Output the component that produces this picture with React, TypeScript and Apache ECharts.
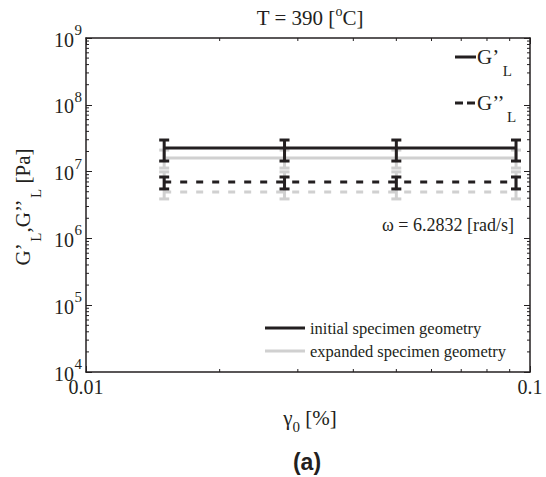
import React, { useEffect, useRef } from "react";
import * as echarts from "echarts";

// ---- data ----
const strainAmplitude = [0.015, 0.028, 0.05, 0.093]; // gamma_0 [%]

const storageInitial = [2.25e7, 2.25e7, 2.25e7, 2.25e7];
const storageInitialLow = [1.44e7, 1.44e7, 1.44e7, 1.44e7];
const storageInitialHigh = [2.97e7, 2.97e7, 2.97e7, 2.97e7];

const storageExpanded = [1.6e7, 1.6e7, 1.6e7, 1.6e7];
const storageExpandedLow = [1.13e7, 1.13e7, 1.13e7, 1.13e7];
const storageExpandedHigh = [2.1e7, 2.1e7, 2.1e7, 2.1e7];

const lossInitial = [7.0e6, 7.0e6, 7.0e6, 7.0e6];
const lossInitialLow = [5.5e6, 5.5e6, 5.5e6, 5.5e6];
const lossInitialHigh = [8.3e6, 8.3e6, 8.3e6, 8.3e6];

const lossExpanded = [4.95e6, 4.95e6, 4.95e6, 4.95e6];
const lossExpandedLow = [3.9e6, 3.9e6, 3.9e6, 3.9e6];
const lossExpandedHigh = [9.9e6, 9.9e6, 9.9e6, 9.9e6];

// ---- ticks ----
const xTickValues = [0.01, 0.1];
const xTickLabels = ["0.01", "0.1"];
const yTickExponents = [4, 5, 6, 7, 8, 9];
const xMinorTicks = [0.02, 0.03, 0.04, 0.05, 0.06, 0.07, 0.08, 0.09];
const yMinorMultipliers = [2, 3, 4, 5, 6, 7, 8, 9];

const BLACK = "#231f20";
const GRAY = "#d0d0d0";
const SERIF = "Liberation Serif";

function richSet(fs: number, subFs: number, shift: number, spFs = 7) {
  const subLH = subFs;
  const L = 2 * shift + subLH;
  return {
    m: { fontFamily: SERIF, fontSize: fs, lineHeight: L, verticalAlign: "middle", fill: BLACK },
    sup: { fontFamily: SERIF, fontSize: subFs, lineHeight: subLH, verticalAlign: "top", fill: BLACK },
    sub: { fontFamily: SERIF, fontSize: subFs, lineHeight: subLH, verticalAlign: "bottom", fill: BLACK },
    sp: { fontFamily: SERIF, fontSize: spFs, lineHeight: subLH, verticalAlign: "middle", fill: BLACK },
  };
}

function pairs(ys: number[]) {
  return strainAmplitude.map((x, i) => [x, ys[i]]);
}
function bars(lo: number[], hi: number[]) {
  return strainAmplitude.map((x, i) => [x, lo[i], hi[i]]);
}

function errorBarRender(color: string) {
  return (params: any, api: any) => {
    const x = api.value(0);
    const top = api.coord([x, api.value(2)]);
    const bot = api.coord([x, api.value(1)]);
    const hw = 5;
    const st = { stroke: color, lineWidth: 3 };
    return {
      type: "group",
      children: [
        { type: "line", shape: { x1: top[0], y1: top[1], x2: bot[0], y2: bot[1] }, style: st },
        { type: "line", shape: { x1: top[0] - hw, y1: top[1], x2: top[0] + hw, y2: top[1] }, style: st },
        { type: "line", shape: { x1: bot[0] - hw, y1: bot[1], x2: bot[0] + hw, y2: bot[1] }, style: st },
      ],
    };
  };
}

export default function App() {
  const ref = useRef<HTMLDivElement>(null);
  useEffect(() => {
    if (!ref.current) return;
    const chart = echarts.init(ref.current, undefined, { renderer: "svg" });

    const yMinor: number[] = [];
    yTickExponents.slice(0, -1).forEach((e) =>
      yMinorMultipliers.forEach((m) => yMinor.push(m * Math.pow(10, e)))
    );

    const tickData = [
      ...xMinorTicks.map((v) => [v, 1e4, 0]),
      ...yMinor.map((v) => [0.01, v, 1]),
    ];

    const axisCommon = {
      type: "log" as const,
      logBase: 10,
      axisLine: { show: true, lineStyle: { color: BLACK, width: 1.5 } },
      axisTick: { show: true, inside: true, length: 6, lineStyle: { color: BLACK, width: 1 } },
      axisLabel: { show: false },
      splitLine: { show: false },
      minorTick: { show: false },
    };

    const richText = (text: string, rich: any, x: number, y: number, align: string, extra: any = {}) => ({
      type: "text",
      x,
      y,
      ...extra,
      style: {
        text,
        rich,
        fontFamily: SERIF,
        fontSize: 17,
        fill: BLACK,
        align,
        verticalAlign: "middle",
      },
    });

    const plainText = (
      text: string,
      size: number,
      x: number,
      y: number,
      align = "left",
      vAlign = "middle",
      lineHeight?: number
    ) => ({
      type: "text",
      x,
      y,
      style: {
        text,
        fontFamily: SERIF,
        fontSize: size,
        lineHeight: lineHeight ?? size,
        fill: BLACK,
        align,
        verticalAlign: vAlign,
      },
    });

    const option: any = {
      animation: false,
      grid: { left: 86, top: 38, width: 444, height: 334, containLabel: false },
      xAxis: [
        { ...axisCommon, min: 0.01, max: 0.1, position: "bottom" },
        { ...axisCommon, min: 0.01, max: 0.1, position: "top" },
      ],
      yAxis: [
        { ...axisCommon, min: 1e4, max: 1e9, position: "left" },
        { ...axisCommon, min: 1e4, max: 1e9, position: "right" },
      ],
      series: [
        { type: "line", data: pairs(storageExpanded), symbol: "none", lineStyle: { color: GRAY, width: 3 }, z: 2 },
        {
          type: "line",
          data: pairs(lossExpanded),
          symbol: "none",
          lineStyle: { color: GRAY, width: 3, type: [7, 9], cap: "butt" },
          z: 2,
        },
        { type: "custom", data: bars(storageExpandedLow, storageExpandedHigh), renderItem: errorBarRender(GRAY), z: 2 },
        { type: "custom", data: bars(lossExpandedLow, lossExpandedHigh), renderItem: errorBarRender(GRAY), z: 2 },
        { type: "line", data: pairs(storageInitial), symbol: "none", lineStyle: { color: BLACK, width: 3 }, z: 3 },
        {
          type: "line",
          data: pairs(lossInitial),
          symbol: "none",
          lineStyle: { color: BLACK, width: 3, type: [7, 9], cap: "butt" },
          z: 3,
        },
        { type: "custom", data: bars(storageInitialLow, storageInitialHigh), renderItem: errorBarRender(BLACK), z: 3 },
        { type: "custom", data: bars(lossInitialLow, lossInitialHigh), renderItem: errorBarRender(BLACK), z: 3 },
        // minor ticks (mirrored on all four sides)
        {
          type: "custom",
          data: tickData,
          silent: true,
          z: 4,
          renderItem: (params: any, api: any) => {
            const cs = params.coordSys;
            const p = api.coord([api.value(0), api.value(1)]);
            const len = 3;
            const st = { stroke: BLACK, lineWidth: 1 };
            if (api.value(2) === 0) {
              return {
                type: "group",
                children: [
                  { type: "line", shape: { x1: p[0], y1: cs.y + cs.height, x2: p[0], y2: cs.y + cs.height - len }, style: st },
                  { type: "line", shape: { x1: p[0], y1: cs.y, x2: p[0], y2: cs.y + len }, style: st },
                ],
              };
            }
            return {
              type: "group",
              children: [
                { type: "line", shape: { x1: cs.x, y1: p[1], x2: cs.x + len, y2: p[1] }, style: st },
                { type: "line", shape: { x1: cs.x + cs.width, y1: p[1], x2: cs.x + cs.width - len, y2: p[1] }, style: st },
              ],
            };
          },
        },
      ],
    };

    chart.setOption(option);

    // tick labels placed through the chart's own scales
    const tickLabelGraphics: any[] = [];
    xTickValues.forEach((v, i) => {
      const p = chart.convertToPixel({ gridIndex: 0 }, [v, 1e4]) as number[];
      tickLabelGraphics.push(plainText(xTickLabels[i], 20, p[0], p[1] + 15, "center", "middle", 15));
    });
    yTickExponents.forEach((e) => {
      const p = chart.convertToPixel({ gridIndex: 0 }, [0.01, Math.pow(10, e)]) as number[];
      tickLabelGraphics.push(plainText("10", 20, p[0] - 12, p[1] + 1.5, "right", "middle", 12));
      tickLabelGraphics.push(plainText(String(e), 15, p[0] - 4, p[1] - 8, "right", "middle", 10));
    });

    chart.setOption({
      graphic: [
        ...tickLabelGraphics,
        richText("{m|T = 390 [}{sup|o}{m|C]}", richSet(21, 14, 7), 310, 18, "center"),
        richText(
          "{m|G’}{sp| }{sub|L}{m|,G’’}{sp| }{sub|L}{m| [Pa]}",
          richSet(21, 15, 13),
          23,
          207,
          "center",
          { rotation: Math.PI / 2 }
        ),
        richText("{m|γ}{sub|0}{m| [%]}", richSet(21, 15, 9), 310, 418, "center"),
        {
          type: "text",
          x: 307,
          y: 462,
          style: {
            text: "(a)",
            fontFamily: "Liberation Sans",
            fontWeight: "bold",
            fontSize: 23,
            fill: BLACK,
            align: "center",
            verticalAlign: "middle",
          },
        },
        // top-right legend
        { type: "line", shape: { x1: 455, y1: 57, x2: 476, y2: 57 }, style: { stroke: BLACK, lineWidth: 3 } },
        richText("{m|G’}{sp| }{sub|L}", richSet(21, 15, 14, 14), 477, 57, "left"),
        { type: "line", shape: { x1: 455, y1: 103, x2: 476, y2: 103 }, style: { stroke: BLACK, lineWidth: 3, lineDash: [8, 4] } },
        richText("{m|G’’}{sp| }{sub|L}", richSet(21, 15, 14, 10), 477, 103, "left"),
        plainText("ω = 6.2832 [rad/s]", 18, 382, 225),
        // bottom legend
        { type: "line", shape: { x1: 265, y1: 328, x2: 305, y2: 328 }, style: { stroke: BLACK, lineWidth: 3 } },
        plainText("initial specimen geometry", 16.5, 310, 328),
        { type: "line", shape: { x1: 265, y1: 351, x2: 305, y2: 351 }, style: { stroke: GRAY, lineWidth: 3 } },
        plainText("expanded specimen geometry", 16.5, 310, 351),
      ],
    });
    return () => chart.dispose();
  }, []);

  return <div ref={ref} style={{ width: 546, height: 477, position: "absolute", left: 0, top: 0 }} />;
}
